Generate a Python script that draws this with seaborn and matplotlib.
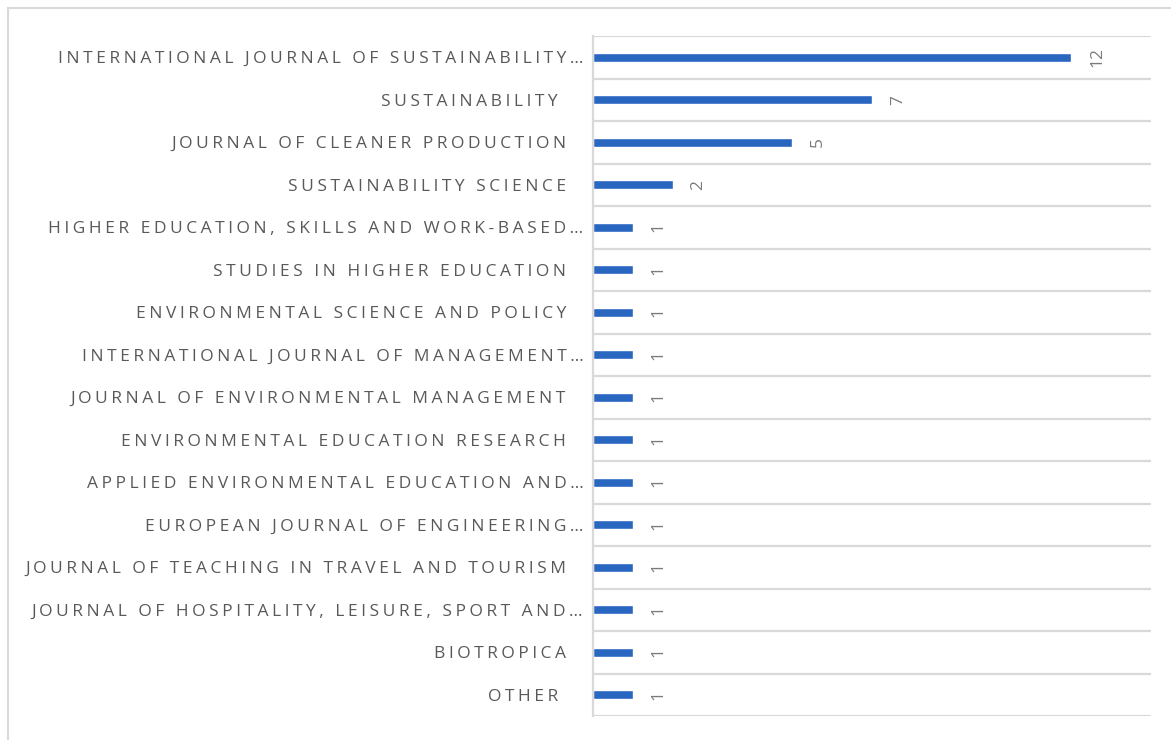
import matplotlib
matplotlib.use("Agg")
import matplotlib.pyplot as plt
import seaborn as sns
import pandas as pd
from matplotlib.patches import Rectangle

# journals and number of papers (top to bottom)
journals = [
    "INTERNATIONAL JOURNAL OF SUSTAINABILITY…",
    "SUSTAINABILITY ",
    "JOURNAL OF CLEANER PRODUCTION",
    "SUSTAINABILITY SCIENCE",
    "HIGHER EDUCATION, SKILLS AND WORK-BASED…",
    "STUDIES IN HIGHER EDUCATION",
    "ENVIRONMENTAL SCIENCE AND POLICY",
    "INTERNATIONAL JOURNAL OF MANAGEMENT…",
    "JOURNAL OF ENVIRONMENTAL MANAGEMENT",
    "ENVIRONMENTAL EDUCATION RESEARCH",
    "APPLIED ENVIRONMENTAL EDUCATION AND…",
    "EUROPEAN JOURNAL OF ENGINEERING…",
    "JOURNAL OF TEACHING IN TRAVEL AND TOURISM",
    "JOURNAL OF HOSPITALITY, LEISURE, SPORT AND…",
    "BIOTROPICA",
    "OTHER ",
]
counts = [12, 7, 5, 2, 1, 1, 1, 1, 1, 1, 1, 1, 1, 1, 1, 1]

df = pd.DataFrame({"journal": journals, "count": counts})

sns.set_theme(style="white")
plt.rcParams["font.family"] = ["Open Sans", "DejaVu Sans"]

GRAY = "#595959"
NUMGRAY = "#7a7a7a"
GRID = "#d9d9d9"
BLUE = "#2866c0"


def spaced(s):
    # fake letter spacing with hair spaces, Excel-like
    out = "\u200a\u200a".join(s)
    if not s.endswith("…"):
        out += "\u2009" * 6
    return out


fig = plt.figure(figsize=(11.71, 7.40), dpi=100)
ax = fig.add_axes([593 / 1171, 1 - 716 / 740, (1151 - 593) / 1171, (716 - 36) / 740])

sns.barplot(data=df, x="count", y="journal", orient="h", color=BLUE,
            width=0.22, saturation=1, ax=ax)

ax.set_xlim(0, 14)
ax.set_ylim(len(journals) - 0.5, -0.5)

# separators between categories
for i in range(len(journals) + 1):
    ax.axhline(i - 0.5, color=GRID, lw=1.6, zorder=0)

for sp in ["top", "right", "bottom"]:
    ax.spines[sp].set_visible(False)
ax.spines["left"].set_color(GRID)
ax.spines["left"].set_linewidth(1.6)

ax.set_xticks([])
ax.set_xlabel("")
ax.set_ylabel("")
ax.set_yticks(range(len(journals)))
ax.set_yticklabels([spaced(j) for j in journals], fontsize=12.5, color=GRAY)
ax.tick_params(axis="y", length=0, pad=7)

for i, v in enumerate(counts):
    ax.text(v + 0.65, i, str(v), rotation=90, va="center", ha="center",
            fontsize=12.5, color=NUMGRAY)

# light frame around the chart area
fig.patches.append(Rectangle((8 / 1171, -0.05), 1.2, 1.05 - 8 / 740, transform=fig.transFigure,
                             fill=False, edgecolor=GRID, lw=1.5))

fig.savefig("out.png", dpi=100)
